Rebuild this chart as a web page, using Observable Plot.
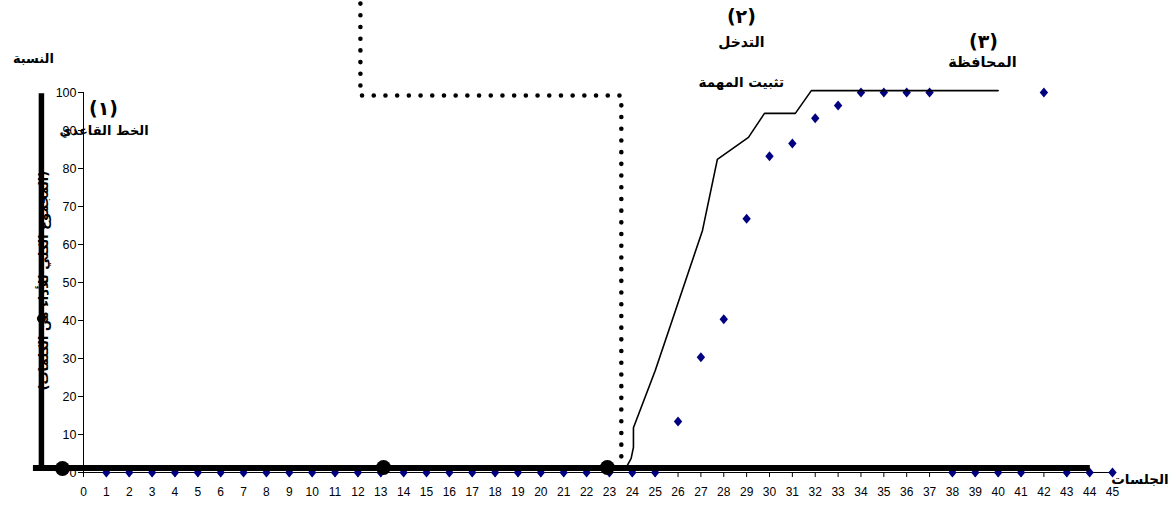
<!DOCTYPE html>
<html>
<head>
<meta charset="utf-8">
<script src="https://cdn.jsdelivr.net/npm/d3@7"></script>
<script src="https://cdn.jsdelivr.net/npm/@observablehq/plot@0.6"></script>
<style>
  html, body { margin: 0; padding: 0; background: #fff; }
  #chart svg { display: block; }
</style>
</head>
<body>
<div id="chart"></div>
<script>
// ---- data ----
const sessions = d3.range(0, 46);
const yTicks = [0, 10, 20, 30, 40, 50, 60, 70, 80, 90, 100];

// percentage per session (diamonds)
const pointSessions = [1,2,3,4,5,6,7,8,9,10,11,12,13,14,15,16,17,18,19,20,21,22,23,24,25,26,27,28,29,30,31,32,33,34,35,36,37,38,39,40,41,42,43,44,45];
const pointValues   = [0,0,0,0,0,0,0,0,0,0,0,0,0,0,0,0,0,0,0,0,0,0,0,0,0,13.4,30.3,40.3,66.8,83.2,86.6,93.2,96.6,100,100,100,100,0,0,0,0,100,0,0,0];

// drawn trend line (task stabilisation)
const trendX = [23.73, 23.95, 24.05, 24.05, 25.0, 27.07, 27.72, 29.08, 29.78, 31.13, 31.83, 40.0];
const trendY = [1.3, 3.7, 6.6, 11.8, 26.8, 63.7, 82.4, 88.2, 94.5, 94.5, 100.5, 100.5];

// phase-change dotted line
const phaseX = [12.11, 12.11, 23.52, 23.52];
const phaseY = [123.4, 99.2, 99.2, 1.8];

// thick drawn axes
const thickV = {x: -1.84, y1: 0.5, y2: 99.7};
const thickH = {y: 1.2, x1: -2.19, x2: 44.03};

// big circles drawn on the axes
const circleX = [-0.92, 13.12, 22.91];
const circleY = [1.05, 1.3, 1.3];
const smallCircle = {x: -1.84, y: 40.5};

// text annotations
const wordLabels = [
  {text: "النسبة", x: -2.19, y: 108.9, size: 13},
  {text: "الخط القاعدي", x: 0.9, y: 90.0, size: 13},
  {text: "التدخل", x: 28.77, y: 113.2, size: 14},
  {text: "تثبيت المهمة", x: 28.77, y: 102.6, size: 13.5},
  {text: "المحافظة", x: 39.31, y: 107.9, size: 14.5},
  {text: "الجلسات", x: 46.2, y: -1.8, size: 13.5}
];
const numLabels = [
  {text: "(١)", x: 0.875, y: 95.8},
  {text: "(٢)", x: 28.77, y: 120.0},
  {text: "(٣)", x: 39.36, y: 113.2}
];
const yLabel = {text: "(المجموع الكلي للأداء من الكلمات)", x: -1.75, y: 50.5};

// ---- build ----
const points = pointSessions.map((s, i) => ({s, v: pointValues[i]}));
const trend = trendX.map((x, i) => ({x, y: trendY[i]}));
const phase = phaseX.map((x, i) => ({x, y: phaseY[i]}));
const circles = circleX.map((x, i) => ({x, y: circleY[i]}));

const excelDiamond = {
  draw(ctx) {
    ctx.moveTo(0, -5); ctx.lineTo(4.2, 0); ctx.lineTo(0, 5); ctx.lineTo(-4.2, 0); ctx.closePath();
  }
};

const chart = Plot.plot({
  width: 1174,
  height: 506,
  marginLeft: 83,
  marginRight: 62,
  marginTop: 92,
  marginBottom: 34,
  style: {fontFamily: "Liberation Sans, Arial, sans-serif", fontSize: "12px", color: "#000", background: "#fff", overflow: "visible"},
  x: {type: "linear", domain: [0, 45]},
  y: {type: "linear", domain: [0, 100]},
  marks: [
    Plot.axisX({ticks: sessions, tickFormat: d => String(d), tickSize: 5, tickPadding: 10, fontSize: 12, label: null, stroke: "#000"}),
    Plot.axisY({ticks: yTicks, tickFormat: d => String(d), tickSize: 5, tickPadding: 2, fontSize: 12.5, label: null, stroke: "#000"}),
    Plot.ruleX([0], {y1: 0, y2: 100, stroke: "#000", strokeWidth: 1}),
    Plot.ruleY([0], {x1: 0, x2: 45, stroke: "#000", strokeWidth: 1}),
    // diamonds
    Plot.dot(points, {x: "s", y: "v", symbol: excelDiamond, fill: "#000080", stroke: "none"}),
    // thick drawn axes
    Plot.ruleX([thickV], {x: "x", y1: "y1", y2: "y2", stroke: "#000", strokeWidth: 5.5}),
    Plot.ruleY([thickH], {y: "y", x1: "x1", x2: "x2", stroke: "#000", strokeWidth: 6}),
    // dotted phase line
    Plot.line(phase, {x: "x", y: "y", stroke: "#000", strokeWidth: 4.6, strokeDasharray: "0 11.7", strokeLinecap: "round"}),
    // trend line
    Plot.line(trend, {x: "x", y: "y", stroke: "#000", strokeWidth: 1.6, curve: "linear"}),
    // circles
    Plot.dot(circles, {x: "x", y: "y", r: 7.5, fill: "#000"}),
    Plot.dot([smallCircle], {x: "x", y: "y", r: 4.5, fill: "#000"}),
    // labels
    Plot.text(wordLabels, {x: "x", y: "y", text: "text", fontSize: d => d.size, fontFamily: "DejaVu Sans, sans-serif", fontWeight: "bold", fill: "#000"}),
    Plot.text(numLabels, {x: "x", y: "y", text: "text", fontSize: 19, fontFamily: "DejaVu Sans, sans-serif", fontWeight: "bold", fill: "#000"}),
    Plot.text([yLabel], {x: "x", y: "y", text: "text", rotate: -90, fontSize: 13, fontFamily: "DejaVu Sans, sans-serif", fontWeight: "bold", fill: "#000"})
  ]
});

document.getElementById("chart").appendChild(chart);
</script>
</body>
</html>
